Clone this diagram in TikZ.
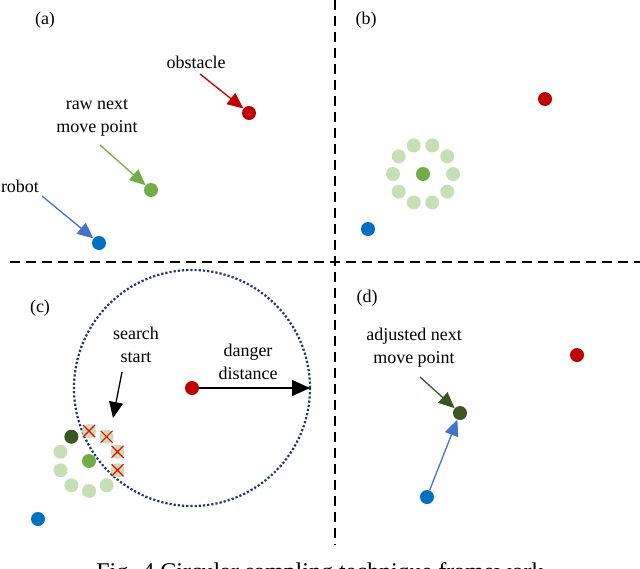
\documentclass[tikz,border=0pt]{standalone}
\usepackage{fontspec}
\setmainfont{Liberation Serif}
\usetikzlibrary{arrows.meta,calc}
\definecolor{obsred}{RGB}{192,0,0}
\definecolor{robblue}{RGB}{0,112,192}
\definecolor{arrblue}{RGB}{68,114,196}
\definecolor{rawgreen}{RGB}{112,173,71}
\definecolor{lightgreen}{RGB}{197,224,180}
\definecolor{darkgreen}{RGB}{56,87,35}
\definecolor{navy}{RGB}{31,56,100}
\tikzset{
  dot/.style={circle, inner sep=0pt, minimum size=14pt, fill=#1},
  lbl/.style={font=\fontsize{18}{23}\selectfont, align=center},
  pointer/.style={draw=#1, line width=1.3pt, -{Triangle[length=16pt,width=14pt]}},
  sep/.style={line width=1.7pt, dash pattern=on 10pt off 6pt}
}
\begin{document}
\begin{tikzpicture}[x=1pt, y=-1pt]
  \useasboundingbox (0,0) rectangle (640,568);

  % Separators
  \coordinate (vtop) at (335,0);
  \coordinate (vbot) at (335,545);
  \coordinate (hl) at (10,262);
  \coordinate (hr) at (640,262);
  \draw[sep] (vtop) -- (vbot);
  \draw[sep] (hl) -- (hr);

  % (a)
  \node[lbl] (la) at (45,20) {(a)};
  \node[dot=obsred] (obsA) at (249,113) {};
  \node[dot=rawgreen] (rawA) at (151,190) {};
  \node[dot=robblue] (robA) at (99,243) {};
  \node[lbl] (tobs) at (196,62) {obstacle};
  \node[lbl] (traw) at (97,118) {raw next\\move point};
  \node[lbl] (trob) at (20,186) {robot};
  \draw[pointer=obsred] (200,74) -- (obsA);
  \draw[pointer=rawgreen] (100,145) -- (rawA);
  \draw[pointer=arrblue] (42,196) -- (robA);

  % (b)
  \node[lbl] (lb) at (366,20) {(b)};
  \node[dot=obsred] (obsB) at (545,99) {};
  \foreach \a in {0,36,...,324}
    \node[dot=lightgreen] (sB\a) at ($(423,174)+({30*cos(\a)},{30*sin(\a)})$) {};
  \node[dot=rawgreen] (rawB) at (423,174) {};
  \node[dot=robblue] (robB) at (368,229) {};

  % (c)
  \node[lbl] (lc) at (40,308) {(c)};
  \node[dot=obsred] (obsC) at (192,388) {};
  \draw[navy, line width=2.2pt, dotted] (obsC.center) circle (118);
  \coordinate (edgeC) at (310,388);
  \draw[line width=1.5pt, -{Triangle[length=18pt,width=16pt]}] (obsC) -- (edgeC);
  \node[lbl] (tdan) at (248,362) {danger\\distance};
  \foreach \a in {0,36,...,324}
    \node[dot=lightgreen] (sC\a) at ($(89,461)+({30*cos(\a+18)},{-30*sin(\a+18)})$) {};
  \node[dot=darkgreen] at (sC108) {};
  \foreach \a in {0,36,324,72}
    \draw[red, line width=1.2pt] ($(sC\a)+(-6,-6)$) -- ($(sC\a)+(6,6)$)
      ($(sC\a)+(-6,6)$) -- ($(sC\a)+(6,-6)$);
  \node[dot=rawgreen] (rawC) at (89,461) {};
  \node[dot=robblue] (robC) at (38,519) {};
  \node[lbl] (tsea) at (136,345) {search\\start};
  \draw[pointer=black] (122,372) -- (113,418);

  % (d)
  \node[lbl] (ld) at (367,298) {(d)};
  \node[dot=obsred] (obsD) at (577,355) {};
  \node[dot=darkgreen] (adjD) at (460,413) {};
  \node[dot=robblue] (robD) at (427,497) {};
  \node[lbl] (tadj) at (414,348) {adjusted next\\move point};
  \draw[pointer=darkgreen] (420,377) -- (adjD);
  \draw[pointer=arrblue] (robD) -- (adjD);

  % Caption
  \node[font=\fontsize{24}{24}\selectfont] (cap) at (320,574) {Fig. 4 Circular sampling technique framework};
\end{tikzpicture}
\end{document}
